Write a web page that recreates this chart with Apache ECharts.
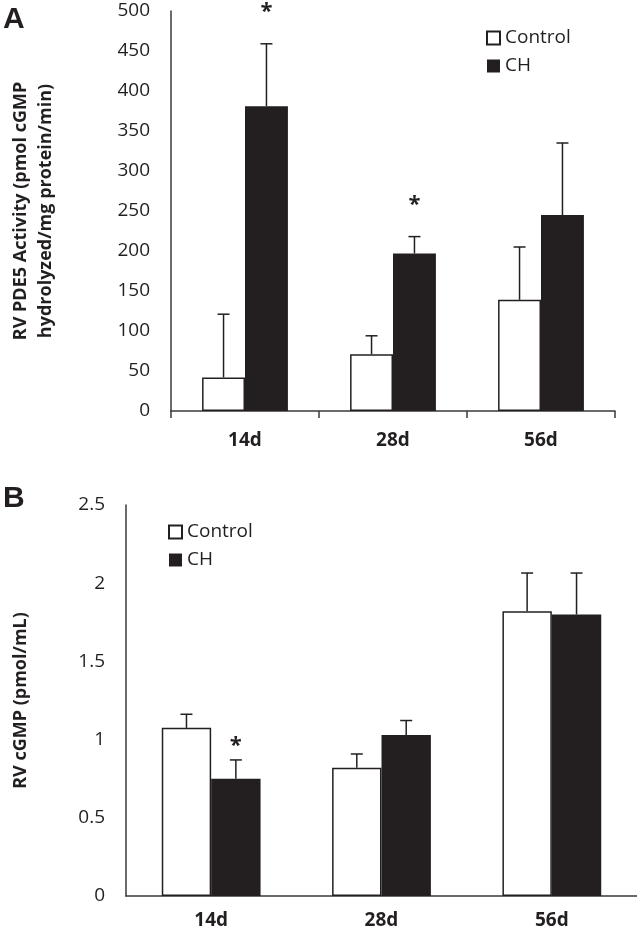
<!DOCTYPE html>
<html>
<head>
<meta charset="utf-8">
<script src="https://cdn.jsdelivr.net/npm/echarts@6/dist/echarts.min.js"></script>
<style>
html,body{margin:0;padding:0;background:#fff;}
#chart{width:637px;height:933px;}
</style>
</head>
<body>
<div id="chart"></div>
<script>
// ---- data ----
const categories = ['14d', '28d', '56d'];
const seriesNames = ['Control', 'CH'];

// Panel A: RV PDE5 activity
const aTicks = { min: 0, max: 500, interval: 50 };
const aControl = [42, 71, 139];
const aControlErr = [79, 23, 66];
const aCH = [381, 197, 245];
const aCHErr = [78, 21, 90];
const aControlSig = [0, 0, 0];
const aCHSig = [1, 1, 0];

// Panel B: RV cGMP
const bTicks = { min: 0, max: 2.5, interval: 0.5 };
const bControl = [1.075, 0.82, 1.82];
const bControlErr = [0.087, 0.088, 0.245];
const bCH = [0.75, 1.03, 1.80];
const bCHErr = [0.12, 0.092, 0.265];
const bControlSig = [0, 0, 0];
const bCHSig = [1, 0, 0];

const yNameA = 'RV PDE5 Activity (pmol cGMP\nhydrolyzed/mg protein/min)';
const yNameB = 'RV cGMP (pmol/mL)';

// ---- styles ----
const INK = '#231f20';
const AXIS = '#3a3a3a';
const FONT = '"Open Sans", "Liberation Sans", sans-serif';
const BARW = 0.29;

function errData(means, errs, sig) {
  return means.map((m, i) => [i, m, errs[i], sig[i]]);
}

function errSeries(name, xi, means, errs, sig, side, starOffset) {
  return {
    type: 'custom',
    name: name,
    xAxisIndex: xi, yAxisIndex: xi,
    clip: false,
    z: 5,
    data: errData(means, errs, sig),
    renderItem: function (params, api) {
      const ci = api.value(0), mean = api.value(1), err = api.value(2), s = api.value(3);
      const band = api.size([1, 0])[0];
      const off = side * band * BARW / 2;
      const p0 = api.coord([ci, mean]);
      const p1 = api.coord([ci, mean + err]);
      const x = p0[0] + off;
      const children = [
        { type: 'line', shape: { x1: x, y1: p0[1], x2: x, y2: p1[1] }, style: { stroke: INK, lineWidth: 1.5 } },
        { type: 'line', shape: { x1: x - 6, y1: p1[1], x2: x + 6, y2: p1[1] }, style: { stroke: INK, lineWidth: 1.5 } }
      ];
      if (s) {
        children.push({ type: 'text', style: { text: '*', x: x, y: p1[1] - starOffset, align: 'center', verticalAlign: 'middle', font: 'bold 22px ' + FONT, fill: INK } });
      }
      return { type: 'group', children: children };
    }
  };
}

const controlStyle = { color: '#ffffff', borderColor: INK, borderWidth: 1.5 };
const chStyle = { color: INK, borderColor: INK, borderWidth: 0 };

const chart = echarts.init(document.getElementById('chart'), null, { renderer: 'canvas' });

const xAxisCommon = {
  type: 'category',
  data: categories,
  axisLine: { lineStyle: { color: AXIS, width: 1.5 } },
  axisLabel: { color: INK, fontFamily: FONT, fontWeight: 'bold', fontSize: 19 },
  splitLine: { show: false }
};
const yAxisCommon = {
  type: 'value',
  axisLine: { show: true, lineStyle: { color: AXIS, width: 1.5 } },
  axisTick: { show: false },
  splitLine: { show: false },
  axisLabel: { color: INK, fontFamily: FONT, fontSize: 19, margin: 21 },
  nameLocation: 'middle',
  nameRotate: 90,
  nameTextStyle: { color: INK, fontFamily: FONT, fontWeight: 'bold', fontSize: 18, lineHeight: 25 }
};

const legendCommon = {
  data: seriesNames, orient: 'vertical', icon: 'rect', itemWidth: 13, itemHeight: 13, itemGap: 6,
  textStyle: { fontFamily: FONT, fontSize: 19, lineHeight: 22, color: INK }, selectedMode: false
};

const option = {
  animation: false,
  backgroundColor: '#ffffff',
  textStyle: { fontFamily: FONT },
  grid: [
    { left: 147, top: 11, width: 468, height: 400 },
    { left: 125, top: 505, width: 512, height: 391 }
  ],
  xAxis: [
    Object.assign({}, xAxisCommon, { gridIndex: 0, axisTick: { show: true, length: 7, lineStyle: { color: AXIS, width: 1.5 } }, axisLabel: Object.assign({}, xAxisCommon.axisLabel, { margin: 20 }) }),
    Object.assign({}, xAxisCommon, { gridIndex: 1, axisTick: { show: false }, axisLabel: Object.assign({}, xAxisCommon.axisLabel, { margin: 15 }) })
  ],
  yAxis: [
    Object.assign({}, yAxisCommon, { gridIndex: 0, min: aTicks.min, max: aTicks.max, interval: aTicks.interval, name: yNameA, nameGap: 113 }),
    Object.assign({}, yAxisCommon, { gridIndex: 1, min: bTicks.min, max: bTicks.max, interval: bTicks.interval, name: yNameB, nameGap: 93 })
  ],
  legend: [
    Object.assign({}, legendCommon, { left: 481, top: 22 }),
    Object.assign({}, legendCommon, { left: 163, top: 516 })
  ],
  graphic: [
    { type: 'text', left: 3, top: 5, style: { text: 'A', font: 'bold 30px "Liberation Sans", Arial, sans-serif', fill: INK } },
    { type: 'text', left: 3, top: 484, style: { text: 'B', font: 'bold 30px "Liberation Sans", Arial, sans-serif', fill: INK } }
  ],
  series: [
    { type: 'bar', name: 'Control', xAxisIndex: 0, yAxisIndex: 0, data: aControl, barWidth: (BARW * 100) + '%', barGap: '0%', itemStyle: controlStyle },
    { type: 'bar', name: 'CH', xAxisIndex: 0, yAxisIndex: 0, data: aCH, barWidth: (BARW * 100) + '%', barGap: '0%', itemStyle: chStyle },
    { type: 'bar', name: 'Control', xAxisIndex: 1, yAxisIndex: 1, data: bControl, barWidth: (BARW * 100) + '%', barGap: '0%', itemStyle: controlStyle },
    { type: 'bar', name: 'CH', xAxisIndex: 1, yAxisIndex: 1, data: bCH, barWidth: (BARW * 100) + '%', barGap: '0%', itemStyle: chStyle },
    errSeries('errA-control', 0, aControl, aControlErr, aControlSig, -1, 32),
    errSeries('errA-ch', 0, aCH, aCHErr, aCHSig, 1, 32),
    errSeries('errB-control', 1, bControl, bControlErr, bControlSig, -1, 14),
    errSeries('errB-ch', 1, bCH, bCHErr, bCHSig, 1, 14)
  ]
};
chart.setOption(option);
</script>
</body>
</html>
